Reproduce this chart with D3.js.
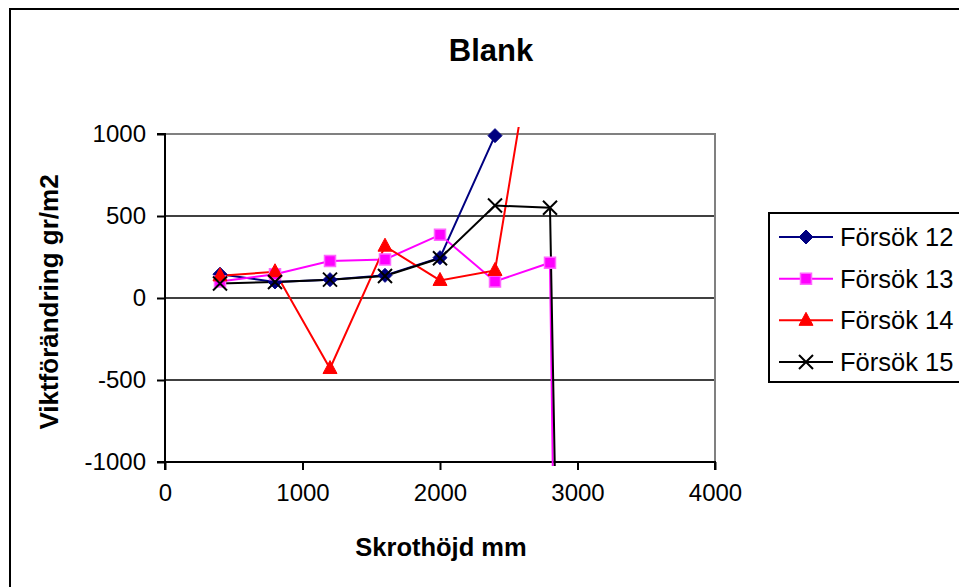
<!DOCTYPE html>
<html lang="sv">
<head>
<meta charset="utf-8">
<title>Blank</title>
<script src="https://d3js.org/d3.v7.min.js"></script>
<style>
body { margin: 0; background: white; }
text { font-family: "Liberation Sans", Arial, sans-serif; fill: black; }
</style>
</head>
<body>
<script>
// x values (Skrothöjd mm) and one array per Försök
var hojd = [400, 800, 1200, 1600, 2000, 2400, 2800, 3200];
var forsok12 = [145, 98, 112, 138, 246, 990, null, null];
var forsok13 = [100, 145, 225, 235, 385, 101, 215, -24500];
var forsok14 = [135, 160, -430, 316, 107, 168, 2200, null];
var forsok15 = [88, 98, 112, 134, 242, 564, 550, -17600];
var serieNamn = ["Försök 12", "Försök 13", "Försök 14", "Försök 15"];
var xTicks = [0, 1000, 2000, 3000, 4000];
var yTicks = [-1000, -500, 0, 500, 1000];

var serier = [
    {name: serieNamn[0], values: forsok12, color: "#000080", marker: "diamond"},
    {name: serieNamn[1], values: forsok13, color: "#ff00ff", marker: "square"},
    {name: serieNamn[2], values: forsok14, color: "#ff0000", marker: "triangle"},
    {name: serieNamn[3], values: forsok15, color: "#000000", marker: "cross"}
];

var svg = d3.select("body").append("svg")
    .attr("width", 959)
    .attr("height", 587);

// chart area border
svg.append("rect")
    .attr("x", 10).attr("y", 9)
    .attr("width", 970).attr("height", 600)
    .attr("fill", "white")
    .attr("stroke", "black")
    .attr("stroke-width", 2);

var margin = {top: 134, left: 165},
    width = 550,
    height = 328;

var x = d3.scaleLinear().domain([0, 4000]).range([0, width]);
var y = d3.scaleLinear().domain([-1000, 1000]).range([height, 0]);

var g = svg.append("g")
    .attr("transform", "translate(" + margin.left + "," + margin.top + ")");

// gridlines
g.selectAll(".grid")
    .data(yTicks.filter(function(d) { return d > -1000 && d < 1000; }))
    .enter().append("line")
    .attr("x1", 0).attr("x2", width)
    .attr("y1", function(d) { return y(d); })
    .attr("y2", function(d) { return y(d); })
    .attr("stroke", "black")
    .attr("stroke-width", 1.5);

// plot area border (top/right grey)
g.append("path")
    .attr("d", "M0," + y(1000) + "H" + width + "V" + height)
    .attr("fill", "none")
    .attr("stroke", "#808080")
    .attr("stroke-width", 2);

var yAxis = g.append("g")
    .call(d3.axisLeft(y).tickValues(yTicks).tickSize(8).tickPadding(11).tickFormat(String));
var xAxis = g.append("g")
    .attr("transform", "translate(0," + height + ")")
    .call(d3.axisBottom(x).tickValues(xTicks).tickSize(8).tickPadding(14).tickFormat(String));

[yAxis, xAxis].forEach(function(a) {
    a.select(".domain").attr("stroke", "black").attr("stroke-width", 2);
    a.selectAll(".tick line").attr("stroke", "black").attr("stroke-width", 2);
    a.selectAll("text")
        .style("font-family", "'Liberation Sans', Arial, sans-serif")
        .style("font-size", "24px")
        .attr("fill", "black");
});
yAxis.select(".domain").attr("d", "M-8," + height + "H0V0H-8");
xAxis.select(".domain").attr("d", "M0,8V0H" + width + "V8");

// clip so off-scale segments stop just outside the plot area
svg.append("clipPath").attr("id", "plotclip")
    .append("rect")
    .attr("x", 0).attr("y", -7)
    .attr("width", width).attr("height", height + 11);

var line = d3.line()
    .defined(function(d) { return d[1] != null; })
    .x(function(d) { return x(d[0]); })
    .y(function(d) { return y(d[1]); });

function markerPath(type) {
    if (type == "diamond") return "M0,-7L7,0L0,7L-7,0Z";
    if (type == "square") return "M-5.5,-5.5H5.5V5.5H-5.5Z";
    if (type == "triangle") return "M0,-8L7,5H-7Z";
    return "M-7,-7L7,7M7,-7L-7,7";
}

function drawMarker(sel, s) {
    sel.append("path")
        .attr("d", markerPath(s.marker))
        .attr("fill", s.marker == "cross" ? "none" : s.color)
        .attr("stroke", s.marker == "square" ? "#ff66ff" : s.color)
        .attr("stroke-width", s.marker == "cross" ? 2 : (s.marker == "square" ? 1.5 : 1));
}

var lines = g.append("g").attr("clip-path", "url(#plotclip)");

serier.forEach(function(s) {
    var pts = hojd.map(function(h, i) { return [h, s.values[i]]; });
    lines.append("path")
        .datum(pts)
        .attr("d", line)
        .attr("fill", "none")
        .attr("stroke", s.color)
        .attr("stroke-width", 2);
});

serier.forEach(function(s) {
    var pts = hojd.map(function(h, i) { return [h, s.values[i]]; })
        .filter(function(d) { return d[1] != null && d[1] >= -1000 && d[1] <= 1000; });
    g.selectAll(null)
        .data(pts)
        .enter().append("g")
        .attr("transform", function(d) { return "translate(" + x(d[0]) + "," + y(d[1]) + ")"; })
        .each(function() { drawMarker(d3.select(this), s); });
});

// titles
svg.append("text")
    .attr("x", 491).attr("y", 61)
    .attr("text-anchor", "middle")
    .style("font-size", "31px").style("font-weight", "bold")
    .text("Blank");

svg.append("text")
    .attr("x", 441).attr("y", 556)
    .attr("text-anchor", "middle")
    .style("font-size", "25.5px").style("font-weight", "bold")
    .text("Skrothöjd mm");

svg.append("text")
    .attr("transform", "translate(58,302) rotate(-90)")
    .attr("text-anchor", "middle")
    .style("font-size", "26px").style("font-weight", "bold")
    .text("Viktförändring gr/m2");

// legend
var legend = svg.append("g");
legend.append("rect")
    .attr("x", 769).attr("y", 213)
    .attr("width", 220).attr("height", 169)
    .attr("fill", "white")
    .attr("stroke", "black")
    .attr("stroke-width", 2);

var rowY = d3.scalePoint().domain(serieNamn).range([237, 362]);

serier.forEach(function(s) {
    var ly = rowY(s.name);
    legend.append("line")
        .attr("x1", 779).attr("x2", 833)
        .attr("y1", ly).attr("y2", ly)
        .attr("stroke", s.color)
        .attr("stroke-width", 2);
    var m = legend.append("g").attr("transform", "translate(806," + ly + ")");
    drawMarker(m, s);
    legend.append("text")
        .attr("x", 840).attr("y", ly + 9)
        .style("font-size", "25.5px")
        .text(s.name);
});
</script>
</body>
</html>
